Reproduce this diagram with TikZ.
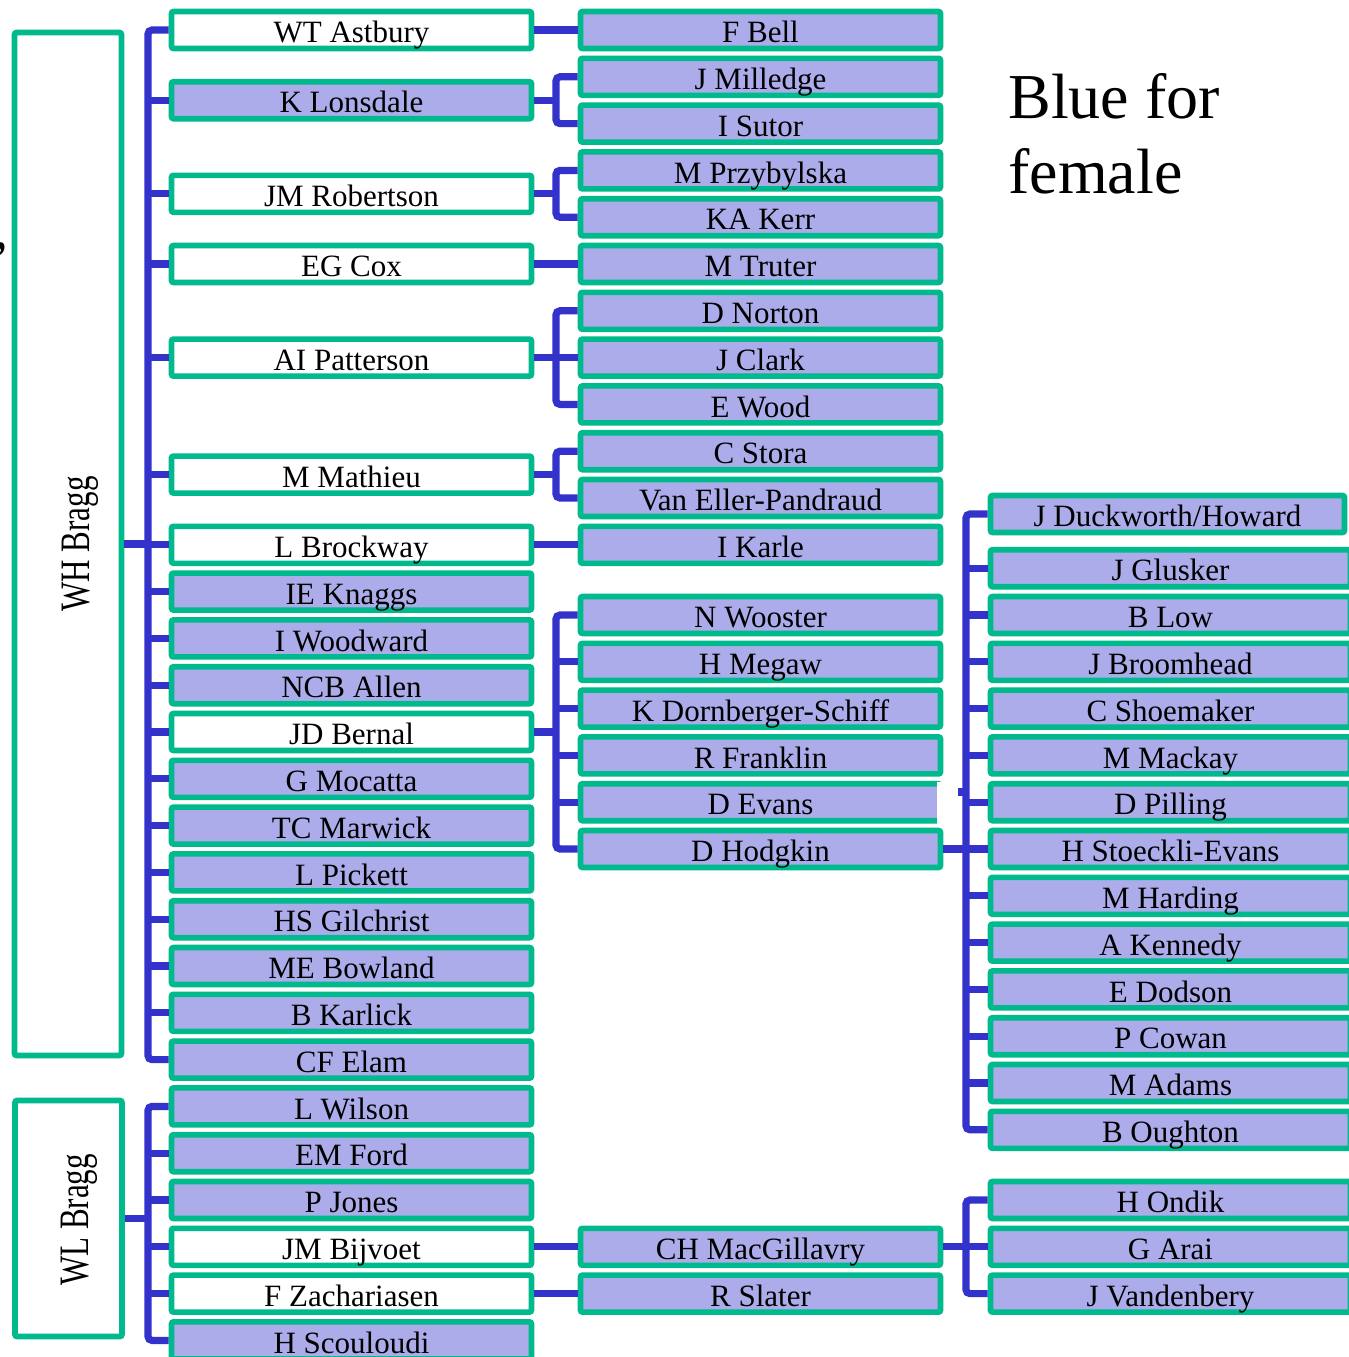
\documentclass[tikz,border=0pt]{standalone}
\usepackage{fontspec}
\setmainfont{Liberation Serif}
\definecolor{boxgreen}{RGB}{0,185,140}
\definecolor{femblue}{RGB}{172,172,235}
\definecolor{linkblue}{RGB}{51,51,204}
\newcommand\namefont{\fontsize{15.5pt}{18pt}\selectfont}
\newcommand\notefont{\fontsize{32pt}{37.5pt}\selectfont}
\begin{document}
\begin{tikzpicture}[x=0.5pt,y=-0.5pt,inner sep=0pt,
person/.style={draw=boxgreen,line width=2.8pt,rounded corners=1pt,fill=white,minimum width=180pt,text height=15.6pt,text depth=2.9pt,font=\namefont},
female/.style={person,fill=femblue},
famebox/.style={draw=boxgreen,line width=2.8pt,rounded corners=1pt,minimum width=53.5pt},
link/.style={draw=linkblue,line width=3.6pt},
trunk/.style={link,rounded corners=2pt}]
\path[use as bounding box,clip] (0,0) rectangle (1349,1357);
\coordinate (t1) at (148,0);
\coordinate (t2) at (556,0);
\coordinate (t3) at (966,0);
% the two Braggs
\node[famebox,minimum height=511.5pt] (whbragg) at (68,544) {};
\node[rotate=90,yscale=1.35,anchor=base,font=\namefont] (whname) at (90,544) {WH Bragg};
\node[famebox,minimum height=118pt] (wlbragg) at (68.5,1218.5) {};
\node[rotate=90,yscale=1.35,anchor=base,font=\namefont] (wlname) at (89,1220) {WL Bragg};
% column 2
\foreach \r/\n/\t in {0/astbury/WT Astbury,3.5/robertson/JM Robertson,5/cox/EG Cox,7/patterson/AI Patterson,9.5/mathieu/M Mathieu,11/brockway/L Brockway,15/bernal/JD Bernal,26/bijvoet/JM Bijvoet,27/zachariasen/F Zachariasen}
  \node[person] (\n) at (351.5,{30+46.8*\r}) {\t};
\foreach \r/\n/\t in {1.5/lonsdale/K Lonsdale,12/knaggs/IE Knaggs,13/woodward/I Woodward,14/allen/NCB Allen,16/mocatta/G Mocatta,17/marwick/TC Marwick,18/pickett/L Pickett,19/gilchrist/HS Gilchrist,20/bowland/ME Bowland,21/karlick/B Karlick,22/elam/CF Elam,23/wilson/L Wilson,24/ford/EM Ford,25/jones/P Jones,28/scouloudi/H Scouloudi}
  \node[female] (\n) at (351.5,{30+46.8*\r}) {\t};
% column 3
\foreach \r/\n/\t in {0/bell/F Bell,1/milledge/J Milledge,2/sutor/I Sutor,3/przybylska/M Przybylska,4/kerr/KA Kerr,5/truter/M Truter,6/norton/D Norton,7/clark/J Clark,8/wood/E Wood,9/stora/C Stora,10/vaneller/Van Eller-Pandraud,11/karle/I Karle,12.5/wooster/N Wooster,13.5/megaw/H Megaw,14.5/dornberger/K Dornberger-Schiff,15.5/franklin/R Franklin,16.5/evans/D Evans,17.5/hodgkin/D Hodgkin,26/macgillavry/CH MacGillavry,27/slater/R Slater}
  \node[female] (\n) at (760.5,{30+46.8*\r}) {\t};
% column 4
\node[female,minimum width=177pt] (duckworth) at (1167.5,514) {J Duckworth/Howard};
\foreach \r/\n/\t in {11.5/glusker/J Glusker,12.5/low/B Low,13.5/broomhead/J Broomhead,14.5/shoemaker/C Shoemaker,15.5/mackay/M Mackay,16.5/pilling/D Pilling,17.5/stoeckli/H Stoeckli-Evans,18.5/harding/M Harding,19.5/kennedy/A Kennedy,20.5/dodson/E Dodson,21.5/cowan/P Cowan,22.5/adams/M Adams,23.5/oughton/B Oughton,25/ondik/H Ondik,26/arai/G Arai,27/vandenbery/J Vandenbery}
  \node[female] (\n) at (1170.5,{30+46.8*\r}) {\t};
\node[anchor=north west,align=left,font=\notefont] (note) at (1008,73) {Blue for\\female};
\node[anchor=base west,font=\fontsize{28pt}{30pt}\selectfont] (comma) at (-6,248) {,};
% WH Bragg's students
\draw[link] (whbragg.east) -- (whbragg.east -| t1);
\draw[trunk] (astbury.west) -| (elam.west -| t1) -- (elam.west);
\foreach \n in {lonsdale,robertson,cox,patterson,mathieu,brockway,knaggs,woodward,allen,bernal,mocatta,marwick,pickett,gilchrist,bowland,karlick}
  \draw[link] (\n.west) -- (\n.west -| t1);
% WL Bragg's students
\draw[link] (wlbragg.east) -- (wlbragg.east -| t1);
\draw[trunk] (wilson.west) -| (scouloudi.west -| t1) -- (scouloudi.west);
\foreach \n in {ford,jones,bijvoet,zachariasen}
  \draw[link] (\n.west) -- (\n.west -| t1);
% next generation
\foreach \a/\b in {astbury/bell,cox/truter,brockway/karle,bijvoet/macgillavry,zachariasen/slater}
  \draw[link] (\a) -- (\b);
\foreach \p/\f/\l in {lonsdale/milledge/sutor,robertson/przybylska/kerr,patterson/norton/wood,mathieu/stora/vaneller,bernal/wooster/hodgkin} {
  \draw[link] (\p.east) -- (\p.east -| t2);
  \draw[trunk] (\f.west) -| (\l.west -| t2) -- (\l.west);
}
\foreach \n in {clark,megaw,dornberger,franklin,evans}
  \draw[link] (\n.west) -- (\n.west -| t2);
\foreach \p/\f/\l in {hodgkin/duckworth/oughton,macgillavry/ondik/vandenbery} {
  \draw[link] (\p.east) -- (\p.east -| t3);
  \draw[trunk] (\f.west) -| (\l.west -| t3) -- (\l.west);
}
\foreach \n in {glusker,low,broomhead,shoemaker,mackay,pilling,stoeckli,harding,kennedy,dodson,cowan,adams,arai}
  \draw[link] (\n.west) -- (\n.west -| t3);
% patch over D Evans
\fill[white] (937,782) rectangle (959,827);
\fill[linkblue] (958,788) rectangle (963,796);
\end{tikzpicture}
\end{document}
